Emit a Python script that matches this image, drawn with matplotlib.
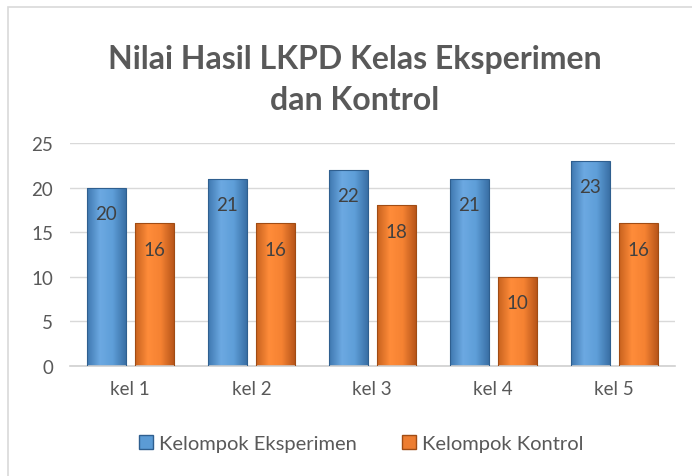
import numpy as np
import matplotlib.pyplot as plt
from matplotlib.patches import Rectangle, Patch
from matplotlib.colors import LinearSegmentedColormap

kelompok = ["kel 1", "kel 2", "kel 3", "kel 4", "kel 5"]
eksperimen = [20, 21, 22, 21, 23]
kontrol = [16, 16, 18, 10, 16]
yticks = [0, 5, 10, 15, 20, 25]

plt.rcParams['font.family'] = ['Lato', 'DejaVu Sans']

fig = plt.figure(figsize=(6.92, 4.77), dpi=100)
ax = fig.add_axes([0.101, 0.2306, 0.874, 0.4675])

# bingkai chart
fig.patches.append(Rectangle((8 / 692, -0.01), 1.0, 1 - 8 / 477 + 0.01,
                             transform=fig.transFigure, fill=False,
                             edgecolor='#D9D9D9', linewidth=1.2))

blue_cm = LinearSegmentedColormap.from_list('b', ['#3F78B0', '#6CA9E2', '#5E9ED8', '#3A70A6'])
orange_cm = LinearSegmentedColormap.from_list('o', ['#C8621E', '#FF8C3A', '#F58232', '#B9561A'])

x = np.arange(len(kelompok))
w = 0.32
off = 0.198


def gradient_bars(bars, cmap, edge):
    grad = np.linspace(0, 1, 64).reshape(1, -1)
    for b in bars:
        b.set_facecolor('none')
        b.set_edgecolor(edge)
        b.set_linewidth(0.8)
        x0, y0 = b.get_x(), b.get_y()
        im = ax.imshow(grad, cmap=cmap, aspect='auto',
                       extent=[x0, x0 + b.get_width(), y0, y0 + b.get_height()],
                       zorder=2)
        im.set_clip_path(b)


b1 = ax.bar(x - off, eksperimen, w, label='Kelompok Eksperimen', zorder=3)
b2 = ax.bar(x + off, kontrol, w, label='Kelompok Kontrol', zorder=3)
gradient_bars(b1, blue_cm, '#2F5F8F')
gradient_bars(b2, orange_cm, '#A04C14')

for bars, vals in [(b1, eksperimen), (b2, kontrol)]:
    for b, v in zip(bars, vals):
        ax.text(b.get_x() + b.get_width() / 2, v - 2.9, str(v),
                ha='center', va='center', fontsize=13.5, color='#404040', zorder=4)

ax.set_xlim(-0.5, len(kelompok) - 0.5)
ax.set_ylim(0, 25)
ax.set_yticks(yticks)
ax.set_xticks(x)
ax.set_xticklabels(kelompok)
ax.tick_params(axis='both', length=0, labelsize=13.5, labelcolor='#595959')
ax.tick_params(axis='x', pad=10)
ax.tick_params(axis='y', pad=12)
ax.yaxis.grid(True, color='#D9D9D9', linewidth=1)
ax.set_axisbelow(True)
for s in ['top', 'right', 'left']:
    ax.spines[s].set_visible(False)
ax.spines['bottom'].set_color('#D0D0D0')
ax.spines['bottom'].set_linewidth(1.2)

fig.text(0.513, 0.832, 'Nilai Hasil LKPD Kelas Eksperimen\ndan Kontrol',
         ha='center', va='center', fontsize=23, fontweight='bold',
         color='#595959', linespacing=1.5)

handles = [Patch(facecolor='#5B9BD5', edgecolor='#2F5F8F'),
           Patch(facecolor='#ED7D31', edgecolor='#A04C14')]
fig.legend(handles, ['Kelompok Eksperimen', 'Kelompok Kontrol'],
           loc='center', bbox_to_anchor=(0.522, 0.068), ncol=2, frameon=False,
           fontsize=14.5, labelcolor='#595959', handlelength=0.7, handleheight=0.7,
           handletextpad=0.3, columnspacing=2.2)

fig.savefig('out.png', dpi=100)
